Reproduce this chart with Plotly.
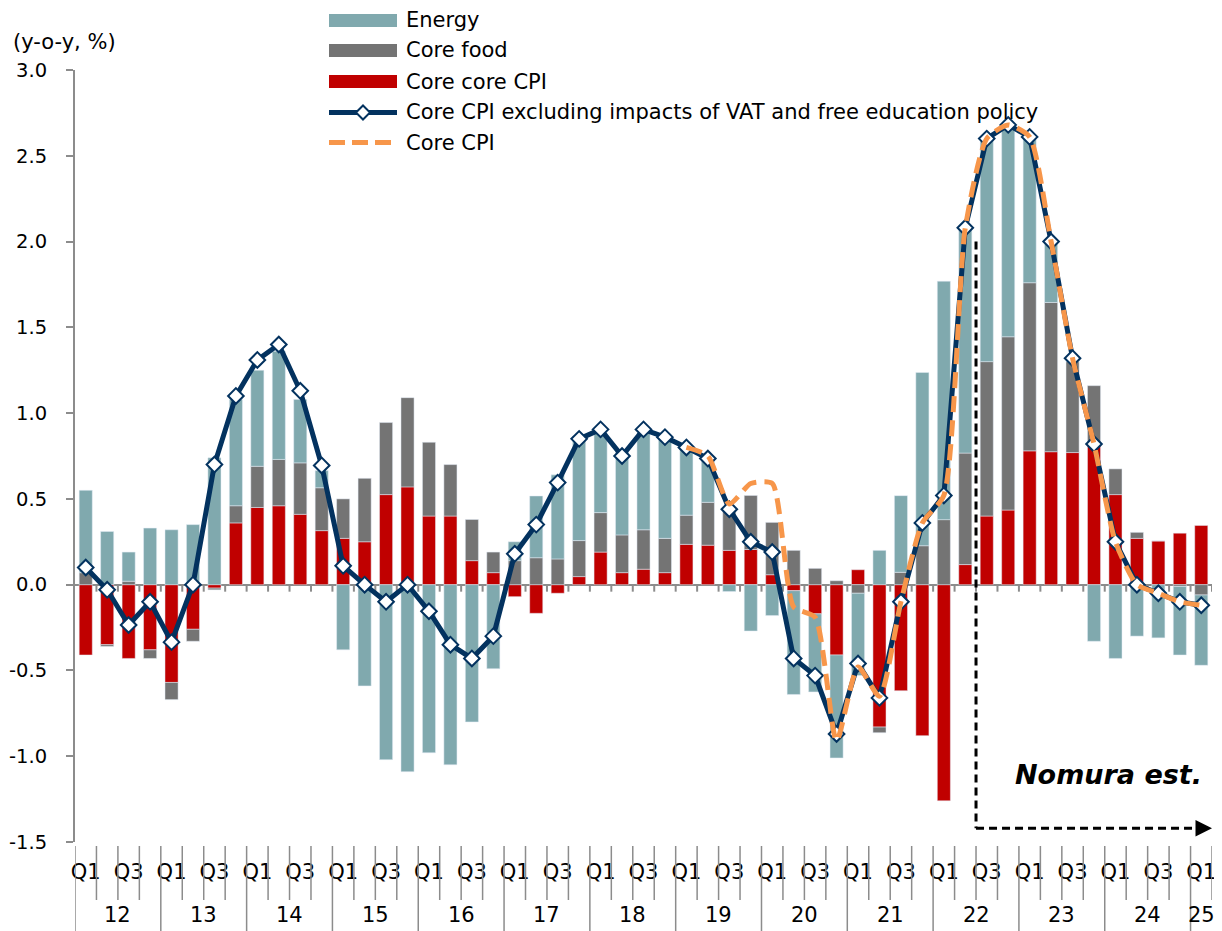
import plotly.graph_objects as go

# quarterly, 2012 Q1 .. 2025 Q1
years = ['12', '13', '14', '15', '16', '17', '18', '19', '20', '21', '22', '23', '24', '25']
quarters = ['Q1', 'Q2', 'Q3', 'Q4']
shown_quarters = ['Q1', 'Q3']
ytick_vals = [-1.5, -1.0, -0.5, 0.0, 0.5, 1.0, 1.5, 2.0, 2.5, 3.0]
ytick_text = ['-1.5', '-1.0', '-0.5', '0.0', '0.5', '1.0', '1.5', '2.0', '2.5', '3.0']

energy = [0.48, 0.31, 0.17, 0.33, 0.32, 0.35, 0.74, 0.62, 0.56, 0.63, 0.37, 0.10,
          -0.38, -0.59, -1.02, -1.09, -0.98, -1.05, -0.80, -0.49, 0.11, 0.36, 0.49, 0.61,
          0.465, 0.50, 0.565, 0.60, 0.40, 0.26, -0.04, -0.27, -0.18, -0.605, -0.455, -0.60,
          -0.48, 0.20, 0.447, 1.01, 1.39, 1.30, 1.29, 1.21, 0.85, 0.35, 0.02, -0.33,
          -0.43, -0.30, -0.31, -0.40, -0.41]
core_food = [0.07, -0.01, 0.02, -0.05, -0.10, -0.07, -0.01, 0.10, 0.24, 0.27, 0.30, 0.25,
             0.23, 0.37, 0.42, 0.52, 0.43, 0.30, 0.24, 0.12, 0.14, 0.157, 0.15, 0.21,
             0.23, 0.22, 0.23, 0.20, 0.17, 0.25, 0.23, 0.315, 0.305, 0.20, 0.095, 0.023,
             -0.05, -0.033, 0.072, 0.227, 0.379, 0.65, 0.90, 1.01, 0.98, 0.87, 0.53, 0.34,
             0.15, 0.035, 0.0, -0.01, -0.06]
core_core = [-0.41, -0.35, -0.43, -0.38, -0.57, -0.26, -0.02, 0.36, 0.45, 0.46, 0.41, 0.315,
             0.27, 0.25, 0.525, 0.57, 0.40, 0.40, 0.14, 0.07, -0.07, -0.167, -0.05, 0.047,
             0.19, 0.07, 0.09, 0.07, 0.235, 0.23, 0.20, 0.205, 0.058, -0.035, -0.17, -0.41,
             0.087, -0.83, -0.618, -0.88, -1.26, 0.117, 0.40, 0.435, 0.78, 0.775, 0.77, 0.82,
             0.525, 0.27, 0.255, 0.30, 0.345]
core_ex_vat = [0.10, -0.03, -0.235, -0.10, -0.335, 0.00, 0.70, 1.10, 1.31, 1.40, 1.13, 0.695,
               0.11, 0.00, -0.10, 0.00, -0.155, -0.35, -0.43, -0.30, 0.18, 0.35, 0.595, 0.85,
               0.905, 0.75, 0.905, 0.86, 0.80, 0.735, 0.44, 0.25, 0.19, -0.43, -0.53, -0.87,
               -0.46, -0.66, -0.10, 0.36, 0.52, 2.08, 2.60, 2.68, 2.61, 2.00, 1.32, 0.82,
               0.25, 0.00, -0.05, -0.10, -0.12]
core_cpi = [None] * 28 + [0.80, 0.75, 0.47, 0.59, 0.59, -0.13, -0.19, -0.91,
                          -0.48, -0.65, -0.10, 0.36, 0.52, 2.08, 2.60, 2.68, 2.61, 2.00, 1.32, 0.82,
                          0.25, 0.00, -0.05, -0.10, -0.12]

names = ['Energy', 'Core food', 'Core core CPI',
         'Core CPI excluding impacts of VAT and free education policy', 'Core CPI']
est_start = 41.5  # forecast from 2022 Q3
est_label = 'Nomura est.'

C_ENERGY = '#80a9ae'
C_FOOD = '#747474'
C_CORE = '#c00000'
C_NAVY = '#03325f'
C_ORANGE = '#f7964a'
C_AXIS = '#8c8c8c'
FONT = 'DejaVu Sans, Arial, sans-serif'

cats = [f'{y} {q}' for y in years for q in quarters][:len(energy)]
tickvals = [c for c in cats if c.split()[1] in shown_quarters]
ticktext = [c.split()[1] for c in tickvals]

# the page body adds an 8px margin, so the figure is drawn 8px in from the window corner
OFF = 8
W, H = 1222 - OFF, 931 - OFF
L, R, T, B = 75 - OFF, 10, 70 - OFF, 89
PW, PH = W - L - R, H - T - B


def px(x):  # window pixel -> paper x
    return (x - OFF - L) / PW


def py(y):  # window pixel -> paper y
    return (H - B - (y - OFF)) / PH


fig = go.Figure()
# stacking order from zero: core core, core food, energy
fig.add_trace(go.Bar(x=cats, y=core_core, name=names[2], marker_color=C_CORE, showlegend=False))
fig.add_trace(go.Bar(x=cats, y=core_food, name=names[1], marker_color=C_FOOD, showlegend=False))
fig.add_trace(go.Bar(x=cats, y=energy, name=names[0], marker_color=C_ENERGY, showlegend=False))
fig.add_trace(go.Scatter(x=cats, y=core_ex_vat, name=names[3], mode='lines+markers',
                         line=dict(color=C_NAVY, width=5),
                         marker=dict(symbol='diamond', size=12, color='white',
                                     line=dict(color=C_NAVY, width=2)),
                         showlegend=False))
fig.add_trace(go.Scatter(x=cats, y=core_cpi, name=names[4], mode='lines',
                         line=dict(color=C_ORANGE, width=5, dash='16px,8px',
                                   shape='spline', smoothing=0.6),
                         showlegend=False))

shapes = []
n = len(cats)
# small ticks on the zero line at category boundaries
for i in range(1, n + 1):
    shapes.append(dict(type='line', xref='x', yref='y', x0=i - 0.5, x1=i - 0.5,
                       ysizemode='pixel', yanchor=0, y0=0, y1=-7,
                       line=dict(color=C_AXIS, width=2), layer='below'))
# category dividers in the label area
for i in range(0, n + 1):
    long_ = (i % 4 == 0)
    shapes.append(dict(type='line', xref='x', yref='paper', x0=i - 0.5, x1=i - 0.5,
                       y0=py(846), y1=py(931 if long_ else 900),
                       line=dict(color=C_AXIS, width=1.5)))
# estimate marker
shapes.append(dict(type='line', xref='x', yref='y', x0=est_start, x1=est_start, y0=2.0, y1=-1.42,
                   line=dict(color='black', width=3, dash='8px,5px')))
shapes.append(dict(type='line', xref='x', yref='y', x0=est_start, x1=n - 0.8, y0=-1.42, y1=-1.42,
                   line=dict(color='black', width=3, dash='8px,5px')))

annotations = [
    dict(x=n - 0.5, y=-1.42, xref='x', yref='y', ax=-16, ay=0, text='', showarrow=True,
         arrowhead=2, arrowsize=1.1, arrowwidth=3, arrowcolor='black'),
    dict(x=px(1204), y=-1.108, xref='paper', yref='y', xanchor='right', yanchor='middle',
         showarrow=False, text=f'<b><i>{est_label}</i></b>',
         font=dict(size=27, color='black', family=FONT)),
    dict(x=px(11), y=py(42), xref='paper', yref='paper', xanchor='left', yanchor='middle',
         showarrow=False, text='(y-o-y, %)', font=dict(size=21, color='black', family=FONT)),
]
# year labels
for k, yr in enumerate(years):
    idx = [i for i, c in enumerate(cats) if c.split()[0] == yr]
    annotations.append(dict(x=(idx[0] + idx[-1]) / 2, y=py(915), xref='x', yref='paper',
                            xanchor='center', yanchor='middle', showarrow=False, text=yr,
                            font=dict(size=21, color='black', family=FONT)))

# legend drawn by hand to match the wide swatches
lx0, lx1, tx = 329, 397, 404
rows = [20.5, 50.5, 81.5, 112.5, 142.5]
for name, col, yc in zip(names[:3], [C_ENERGY, C_FOOD, C_CORE], rows[:3]):
    shapes.append(dict(type='rect', xref='paper', yref='paper', x0=px(lx0), x1=px(lx1),
                       y0=py(yc - 6.5), y1=py(yc + 6.5), fillcolor=col, line=dict(width=0)))
shapes.append(dict(type='line', xref='paper', yref='paper', x0=px(lx0), x1=px(lx1),
                   y0=py(rows[3]), y1=py(rows[3]), line=dict(color=C_NAVY, width=5)))
cx, cy, d = (lx0 + lx1) / 2, rows[3], 7
shapes.append(dict(type='path', xref='paper', yref='paper',
                   path=f'M{px(cx - d)},{py(cy)} L{px(cx)},{py(cy - d)} L{px(cx + d)},{py(cy)} '
                        f'L{px(cx)},{py(cy + d)} Z',
                   fillcolor='white', line=dict(color=C_NAVY, width=2)))
shapes.append(dict(type='line', xref='paper', yref='paper', x0=px(lx0), x1=px(lx1),
                   y0=py(rows[4]), y1=py(rows[4]),
                   line=dict(color=C_ORANGE, width=5, dash='16px,7px')))
for name, yc in zip(names, rows):
    annotations.append(dict(x=px(tx), y=py(yc), xref='paper', yref='paper', xanchor='left',
                            yanchor='middle', showarrow=False, text=name,
                            font=dict(size=21, color='black', family=FONT)))

fig.update_layout(
    width=W, height=H,
    margin=dict(l=L, r=R, t=T, b=B, pad=0),
    plot_bgcolor='white', paper_bgcolor='white',
    barmode='relative', bargap=0.39,
    font=dict(family=FONT, size=20, color='black'),
    shapes=shapes, annotations=annotations,
    showlegend=False,
    xaxis=dict(type='category', categoryorder='array', categoryarray=cats, automargin=False,
               range=[-0.5, n - 0.5], tickmode='array', tickvals=tickvals, ticktext=ticktext,
               ticks='', showline=False, showgrid=False, zeroline=False,
               tickfont=dict(size=21, color='black'), ticklabelstandoff=15),
    yaxis=dict(range=[-1.5, 3.0], tickmode='array', tickvals=ytick_vals, ticktext=ytick_text,
               ticks='outside', ticklen=7, tickwidth=2, tickcolor=C_AXIS,
               showline=True, linecolor=C_AXIS, linewidth=2, showgrid=False, automargin=False,
               zeroline=True, zerolinecolor=C_AXIS, zerolinewidth=2,
               tickfont=dict(size=19.5, color='black'), ticklabelstandoff=15),
)

fig.write_html('out.html')
